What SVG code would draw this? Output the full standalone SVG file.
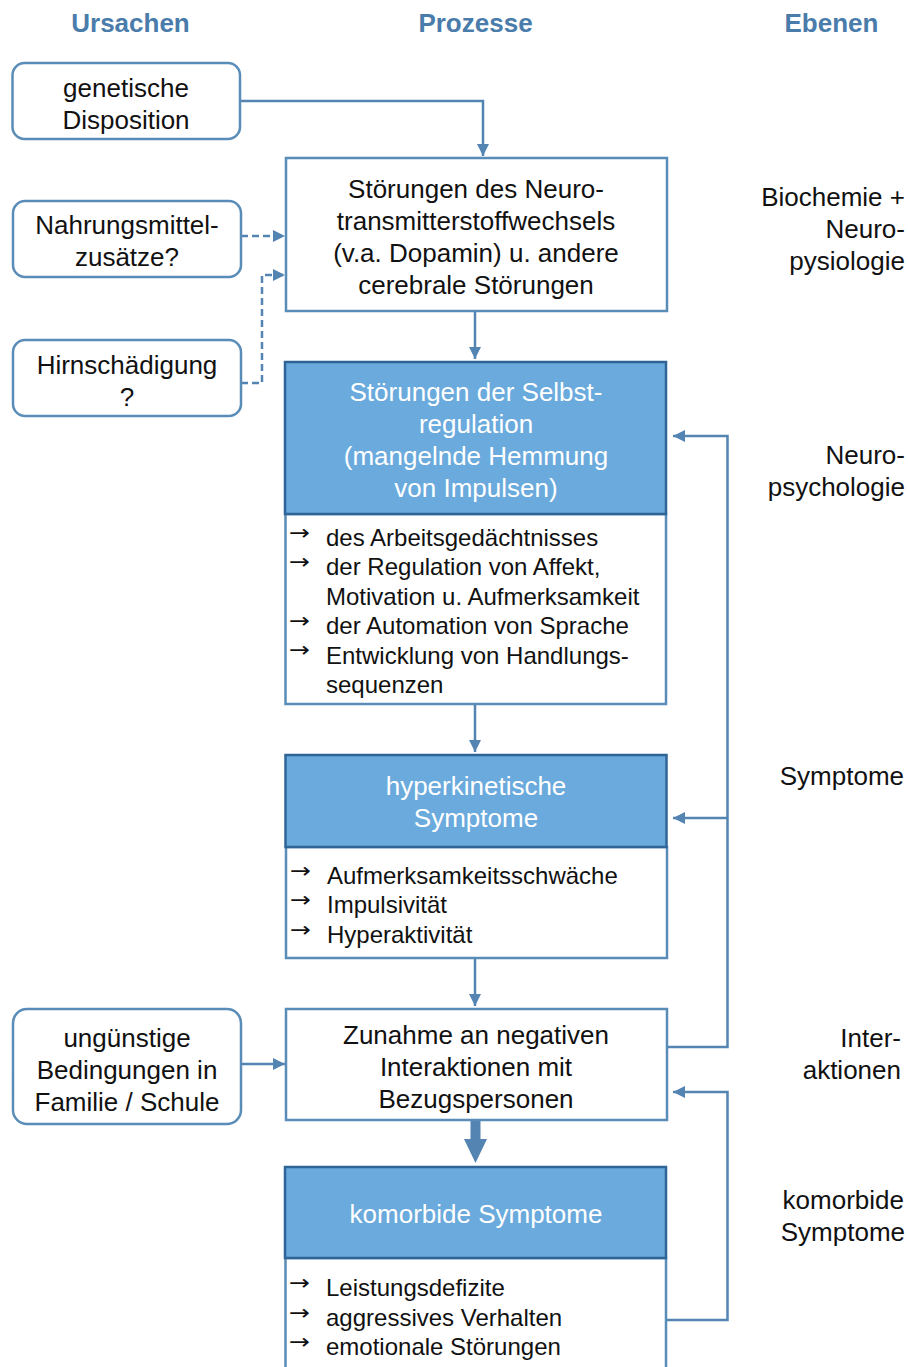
<svg xmlns="http://www.w3.org/2000/svg" width="908" height="1367" viewBox="0 0 908 1367">
<defs>
<style>
text{font-family:"Liberation Sans",Arial,Helvetica,sans-serif;font-size:26px;fill:#111;}
.hd{font-weight:bold;fill:#4a7cab;text-anchor:middle;}
.c{text-anchor:middle;}
.w{fill:#fff;text-anchor:middle;}
.r{text-anchor:end;}
.li{font-size:24px;}
.bu{font-family:"DejaVu Sans",sans-serif;font-size:21px;}
.rb{fill:#fff;stroke:#5a8cb8;stroke-width:2.5;}
.bx{fill:#fff;stroke:#5a8cb8;stroke-width:2.5;}
.hb{fill:#6aaadc;stroke:#2f6596;stroke-width:2.5;}
.ln{fill:none;stroke:#5384b2;stroke-width:2.5;}
.ds{fill:none;stroke:#5384b2;stroke-width:2.5;stroke-dasharray:7 4;}
.ah{fill:#5384b2;}
</style>
<marker id="arr" viewBox="0 0 12 12" refX="12" refY="6" markerWidth="12" markerHeight="12" markerUnits="userSpaceOnUse" orient="auto">
<path d="M0,0 L12,6 L0,12 z" fill="#5384b2"/>
</marker>
</defs>
<rect width="908" height="1367" fill="#fff"/>

<g id="headers">
<text class="hd" x="130.5" y="32">Ursachen</text>
<text class="hd" x="475.5" y="32">Prozesse</text>
<text class="hd" x="831.5" y="32">Ebenen</text>
</g>

<g id="levels">
<text class="r" x="905" y="206">Biochemie +</text>
<text class="r" x="905" y="238">Neuro-</text>
<text class="r" x="905" y="270">pysiologie</text>
<text class="r" x="905" y="464">Neuro-</text>
<text class="r" x="905" y="496">psychologie</text>
<text class="r" x="904" y="785">Symptome</text>
<text class="r" x="901" y="1047">Inter-</text>
<text class="r" x="901" y="1079">aktionen</text>
<text class="r" x="904" y="1209">komorbide</text>
<text class="r" x="905" y="1241">Symptome</text>
</g>

<g id="connectors">
<path class="ln" d="M240,101 H483 V156" marker-end="url(#arr)"/>
<path class="ds" d="M241,236 H285" marker-end="url(#arr)"/>
<path class="ds" d="M241,383 H262 V275 H285" marker-end="url(#arr)"/>
<path class="ln" d="M475,311 V359" marker-end="url(#arr)"/>
<path class="ln" d="M475,704 V752" marker-end="url(#arr)"/>
<path class="ln" d="M475,958 V1006" marker-end="url(#arr)"/>
<polygon class="ah" points="470.5,1120 480.5,1120 480.5,1139 487,1139 475.5,1163 464,1139 470.5,1139"/>
<path class="ln" d="M241,1064 H285" marker-end="url(#arr)"/>
<path class="ln" d="M667,1047 H727.5 V436 H673" marker-end="url(#arr)"/>
<path class="ln" d="M727.5,818 H673" marker-end="url(#arr)"/>
<path class="ln" d="M667,1320 H727.5 V1092 H673" marker-end="url(#arr)"/>
</g>

<g id="genetische">
<rect class="rb" x="12.5" y="63" width="227.5" height="76" rx="12"/>
<text class="c" x="126" y="96.5">genetische</text>
<text class="c" x="126" y="128.5">Disposition</text>
</g>

<g id="nahrung">
<rect class="rb" x="13" y="201" width="228" height="76" rx="12"/>
<text class="c" x="127" y="234">Nahrungsmittel-</text>
<text class="c" x="127" y="266">zusätze?</text>
</g>

<g id="hirn">
<rect class="rb" x="13" y="340" width="228" height="76" rx="12"/>
<text class="c" x="127" y="374">Hirnschädigung</text>
<text class="c" x="127" y="406">?</text>
</g>

<g id="bedingungen">
<rect class="rb" x="13" y="1009" width="228" height="115" rx="14"/>
<text class="c" x="127" y="1047">ungünstige</text>
<text class="c" x="127" y="1079">Bedingungen in</text>
<text class="c" x="127" y="1111">Familie / Schule</text>
</g>

<g id="neurotransmitter">
<rect class="bx" x="286" y="158" width="381" height="153"/>
<text class="c" x="476" y="198">Störungen des Neuro-</text>
<text class="c" x="476" y="230">transmitterstoffwechsels</text>
<text class="c" x="476" y="262">(v.a. Dopamin) u. andere</text>
<text class="c" x="476" y="294">cerebrale Störungen</text>
</g>

<g id="selbstregulation">
<rect class="bx" x="285.5" y="514" width="380.5" height="190"/>
<rect class="hb" x="285" y="362" width="381" height="152"/>
<text class="w" x="476" y="401">Störungen der Selbst-</text>
<text class="w" x="476" y="433">regulation</text>
<text class="w" x="476" y="465">(mangelnde Hemmung</text>
<text class="w" x="476" y="497">von Impulsen)</text>
<text class="bu" x="289" y="540" textLength="21" lengthAdjust="spacingAndGlyphs">→</text>
<text class="bu" x="289" y="569" textLength="21" lengthAdjust="spacingAndGlyphs">→</text>
<text class="bu" x="289" y="628" textLength="21" lengthAdjust="spacingAndGlyphs">→</text>
<text class="bu" x="289" y="657" textLength="21" lengthAdjust="spacingAndGlyphs">→</text>
<text class="li" x="326" y="546">des Arbeitsgedächtnisses</text>
<text class="li" x="326" y="575">der Regulation von Affekt,</text>
<text class="li" x="326" y="605">Motivation u. Aufmerksamkeit</text>
<text class="li" x="326" y="634">der Automation von Sprache</text>
<text class="li" x="326" y="664">Entwicklung von Handlungs-</text>
<text class="li" x="326" y="693">sequenzen</text>
</g>

<g id="hyperkinetisch">
<rect class="bx" x="286" y="847" width="381" height="111"/>
<rect class="hb" x="285.5" y="755" width="381" height="92"/>
<text class="w" x="476" y="795">hyperkinetische</text>
<text class="w" x="476" y="827">Symptome</text>
<text class="bu" x="290" y="878" textLength="21" lengthAdjust="spacingAndGlyphs">→</text>
<text class="bu" x="290" y="907" textLength="21" lengthAdjust="spacingAndGlyphs">→</text>
<text class="bu" x="290" y="937" textLength="21" lengthAdjust="spacingAndGlyphs">→</text>
<text class="li" x="327" y="884">Aufmerksamkeitsschwäche</text>
<text class="li" x="327" y="913">Impulsivität</text>
<text class="li" x="327" y="943">Hyperaktivität</text>
</g>

<g id="interaktionen">
<rect class="bx" x="286" y="1009" width="381" height="111"/>
<text class="c" x="476" y="1044">Zunahme an negativen</text>
<text class="c" x="476" y="1076">Interaktionen mit</text>
<text class="c" x="476" y="1108">Bezugspersonen</text>
</g>

<g id="komorbide">
<rect class="bx" x="285.5" y="1258" width="380.5" height="130"/>
<rect class="hb" x="285" y="1167" width="381" height="91"/>
<text class="w" x="476" y="1223">komorbide Symptome</text>
<text class="bu" x="289" y="1290" textLength="21" lengthAdjust="spacingAndGlyphs">→</text>
<text class="bu" x="289" y="1320" textLength="21" lengthAdjust="spacingAndGlyphs">→</text>
<text class="bu" x="289" y="1349" textLength="21" lengthAdjust="spacingAndGlyphs">→</text>
<text class="li" x="326" y="1296">Leistungsdefizite</text>
<text class="li" x="326" y="1326">aggressives Verhalten</text>
<text class="li" x="326" y="1355">emotionale Störungen</text>
</g>
</svg>
